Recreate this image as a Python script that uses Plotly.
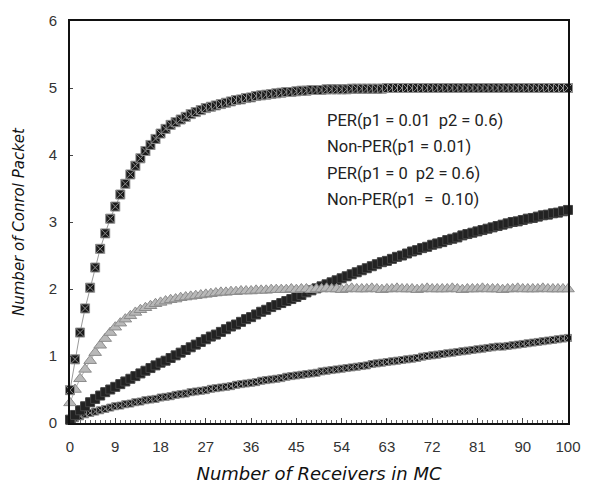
import plotly.graph_objects as go

# category positions (index of receiver count)
x_idx = list(range(100))
tick_pos = [0, 9, 18, 27, 36, 45, 54, 63, 72, 81, 90, 99]
tick_text = ["0", "9", "18", "27", "36", "45", "54", "63", "72", "81", "90", "100"]

names = ["PER(p1 = 0.01  p2 = 0.6)", "Non-PER(p1 = 0.01)",
         "PER(p1 = 0  p2 = 0.6)", "Non-PER(p1  =  0.10)"]

per_001 = [0.49, 0.95, 1.35, 1.71, 2.02, 2.32, 2.60, 2.83, 3.05, 3.23,
           3.41, 3.57, 3.71, 3.84, 3.95, 4.06, 4.15, 4.24, 4.32, 4.39,
           4.45, 4.49, 4.53, 4.57, 4.61, 4.64, 4.67, 4.70, 4.72, 4.74,
           4.76, 4.78, 4.80, 4.82, 4.83, 4.85, 4.86, 4.88, 4.89, 4.90,
           4.91, 4.92, 4.93, 4.94, 4.94, 4.95, 4.96, 4.96, 4.97, 4.97,
           4.97, 4.98, 4.98, 4.98, 4.98, 4.98, 4.99, 4.99, 4.99, 4.99,
           4.99, 4.99, 4.99, 5.00, 5.00, 5.00, 5.00, 5.00, 5.00, 5.00,
           5.00, 5.00, 5.00, 5.00, 5.00, 5.00, 5.00, 5.00, 5.00, 5.00,
           5.00, 5.00, 5.00, 5.00, 5.00, 5.00, 5.00, 5.00, 5.00, 5.00,
           5.00, 5.00, 5.00, 5.00, 5.00, 5.00, 5.00, 5.00, 5.00, 5.00]

nonper_001 = [0.03, 0.07, 0.10, 0.13, 0.15, 0.17, 0.19, 0.21, 0.23, 0.25,
              0.26, 0.28, 0.29, 0.31, 0.32, 0.34, 0.35, 0.36, 0.38, 0.39,
              0.40, 0.42, 0.43, 0.44, 0.46, 0.47, 0.48, 0.49, 0.51, 0.52,
              0.53, 0.54, 0.55, 0.57, 0.58, 0.59, 0.60, 0.61, 0.63, 0.64,
              0.65, 0.66, 0.67, 0.69, 0.70, 0.71, 0.72, 0.73, 0.74, 0.75,
              0.77, 0.78, 0.79, 0.80, 0.81, 0.82, 0.83, 0.84, 0.85, 0.86,
              0.88, 0.89, 0.90, 0.91, 0.92, 0.93, 0.94, 0.95, 0.96, 0.97,
              0.99, 1.00, 1.01, 1.02, 1.03, 1.04, 1.05, 1.06, 1.07, 1.08,
              1.09, 1.10, 1.11, 1.12, 1.13, 1.14, 1.14, 1.15, 1.16, 1.17,
              1.18, 1.19, 1.20, 1.21, 1.22, 1.23, 1.24, 1.25, 1.26, 1.27]

per_0 = [0.30, 0.50, 0.66, 0.80, 0.93, 1.05, 1.16, 1.26, 1.35, 1.43,
         1.49, 1.55, 1.60, 1.65, 1.69, 1.72, 1.75, 1.78, 1.80, 1.82,
         1.84, 1.85, 1.87, 1.88, 1.89, 1.90, 1.91, 1.92, 1.93, 1.94,
         1.95, 1.95, 1.96, 1.96, 1.97, 1.97, 1.97, 1.98, 1.98, 1.98,
         1.99, 1.99, 1.99, 1.99, 2.00, 1.99, 2.00, 2.00, 1.99, 2.00,
         2.00, 2.01, 2.00, 2.00, 1.99, 2.00, 2.01, 2.00, 2.00, 2.00,
         2.01, 2.00, 1.99, 2.00, 2.00, 2.01, 2.00, 2.00, 2.00, 1.99,
         2.00, 2.01, 2.00, 2.00, 2.00, 2.00, 2.01, 2.00, 1.99, 2.00,
         2.00, 2.00, 2.01, 2.00, 2.00, 2.00, 1.99, 2.00, 2.00, 2.01,
         2.00, 2.00, 2.00, 2.00, 2.01, 2.00, 2.00, 2.00, 2.00, 2.00]

nonper_010 = [0.05, 0.12, 0.19, 0.25, 0.31, 0.36, 0.41, 0.46, 0.50, 0.54,
              0.58, 0.62, 0.66, 0.70, 0.74, 0.78, 0.82, 0.86, 0.90, 0.93,
              0.97, 1.01, 1.05, 1.09, 1.13, 1.17, 1.21, 1.25, 1.29, 1.32,
              1.36, 1.40, 1.44, 1.47, 1.51, 1.55, 1.58, 1.62, 1.66, 1.69,
              1.73, 1.76, 1.79, 1.82, 1.85, 1.88, 1.91, 1.95, 1.98, 2.01,
              2.04, 2.07, 2.10, 2.13, 2.16, 2.19, 2.22, 2.25, 2.28, 2.31,
              2.34, 2.37, 2.40, 2.42, 2.45, 2.48, 2.50, 2.53, 2.56, 2.58,
              2.61, 2.63, 2.66, 2.68, 2.70, 2.73, 2.75, 2.77, 2.80, 2.82,
              2.84, 2.86, 2.88, 2.90, 2.92, 2.94, 2.96, 2.98, 3.00, 3.01,
              3.03, 3.05, 3.06, 3.08, 3.10, 3.11, 3.13, 3.14, 3.16, 3.18]

fig = go.Figure()

# bottom series: gray band with small dark markers
fig.add_trace(go.Scatter(
    x=x_idx, y=nonper_001, name=names[1], mode="lines+markers",
    line=dict(color="#7a7a7a", width=5),
    marker=dict(symbol="square-x", size=7, color="#161616",
                line=dict(color="#8a8a8a", width=1)),
    cliponaxis=False))

fig.add_trace(go.Scatter(
    x=x_idx, y=nonper_010, name=names[3], mode="lines+markers",
    line=dict(color="#333333", width=2),
    marker=dict(symbol="square", size=9, color="#222222",
                line=dict(color="#444444", width=1)),
    cliponaxis=False))

fig.add_trace(go.Scatter(
    x=x_idx, y=per_0, name=names[2], mode="lines+markers",
    line=dict(color="#b0b0b0", width=1),
    marker=dict(symbol="triangle-up", size=11, color="#b8b8b8",
                line=dict(color="#8c8c8c", width=1)),
    cliponaxis=False))

fig.add_trace(go.Scatter(
    x=x_idx, y=per_001, name=names[0], mode="lines+markers",
    line=dict(color="#9a9a9a", width=1),
    marker=dict(symbol="square-x", size=9, color="#1a1a1a",
                line=dict(color="#8f8f8f", width=1)),
    cliponaxis=False))

legend_y = [0.752, 0.687, 0.621, 0.557]
for txt, yy in zip(names, legend_y):
    fig.add_annotation(
        text=txt, xref="paper", yref="paper", x=0.512, y=yy,
        xanchor="left", yanchor="middle", showarrow=False,
        font=dict(family="Roboto, Liberation Sans, sans-serif", size=16.5, color="#222"))

fig.update_layout(
    width=596, height=493,
    margin=dict(l=70, r=28, t=14, b=66),
    paper_bgcolor="white", plot_bgcolor="white",
    showlegend=False,
    font=dict(family="Liberation Sans, Arial, sans-serif", size=15, color="#333"),
)

fig.update_xaxes(
    range=[0, 99], tickmode="array", tickvals=tick_pos, ticktext=tick_text,
    showgrid=False, zeroline=False,
    showline=True, linecolor="#111", linewidth=2, mirror=True,
    ticks="inside", ticklen=5, tickcolor="#444", ticklabelstandoff=9,
    minor=dict(tickmode="linear", tick0=0, dtick=1, ticks="inside",
               ticklen=3, tickcolor="#666", showgrid=False),
    title=dict(text="Number of Receivers in MC", standoff=13,
               font=dict(family="DejaVu Sans", size=18, style="italic", color="#111")),
)

fig.update_yaxes(
    range=[0, 6], tickmode="linear", tick0=0, dtick=1,
    showgrid=False, zeroline=False,
    showline=True, linecolor="#111", linewidth=2, mirror=True,
    ticks="inside", ticklen=3, tickcolor="#444", ticklabelstandoff=8,
    title=dict(text="Number of Conrol Packet", standoff=20,
               font=dict(family="DejaVu Sans", size=15, style="italic", color="#111")),
)

fig.write_html("out.html", config={"displayModeBar": False},
               post_script="document.body.style.margin='0';document.body.style.overflow='hidden';")
